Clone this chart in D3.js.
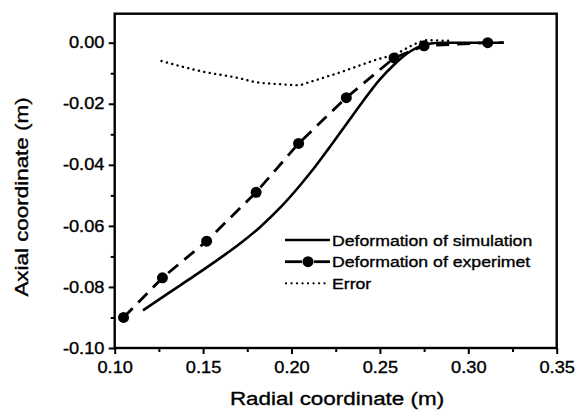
<!DOCTYPE html>
<html>
<head>
<meta charset="utf-8">
<script src="https://cdn.jsdelivr.net/npm/d3@7"></script>
<style>
  body { margin: 0; background: #fff; }
  svg { display: block; }
  text { font-family: "Liberation Sans", Arial, sans-serif; fill: #000; stroke: #000; stroke-width: 0.35px; }
</style>
</head>
<body>
<script>
// values
var simX = [0.116, 0.130, 0.145, 0.160, 0.170, 0.182, 0.194, 0.205, 0.213, 0.221, 0.232, 0.240, 0.250, 0.258, 0.265, 0.271, 0.277, 0.285, 0.300, 0.320];
var simY = [-0.0877, -0.0822, -0.0764, -0.0704, -0.0662, -0.0605, -0.0538, -0.0466, -0.0409, -0.0347, -0.0259, -0.0195, -0.0120, -0.0072, -0.0037, -0.0016, -0.0004, 0.0, 0.0, 0.0];

var expX = [0.105, 0.127, 0.152, 0.180, 0.204, 0.231, 0.258, 0.275, 0.311];
var expY = [-0.090, -0.077, -0.065, -0.049, -0.033, -0.018, -0.005, -0.001, 0.000];
var expLineEnd = [0.320, 0.000]; // dashed line carries on past the last marker

var errX = [0.1265, 0.1485, 0.171, 0.1796, 0.1937, 0.2038, 0.2106, 0.2275, 0.2501, 0.2576, 0.2708, 0.2764, 0.2896];
var errY = [-0.0060, -0.0093, -0.0117, -0.0129, -0.0136, -0.0139, -0.0128, -0.0097, -0.0052, -0.0040, -0.0002, 0.0008, 0.0006];

var xMajor = [0.10, 0.15, 0.20, 0.25, 0.30, 0.35];
var xMinor = [0.125, 0.175, 0.225, 0.275, 0.325];
var yMajor = [-0.10, -0.08, -0.06, -0.04, -0.02, 0.00];
var yMinor = [-0.09, -0.07, -0.05, -0.03, -0.01];

var legendLabels = ["Deformation of simulation", "Deformation of experimet", "Error"];

var W = 577, H = 412;
var pLeft = 114.7, pRight = 556.7, pTop = 13.7, pBottom = 348;
var stretch = 1.14; // the figure's type is a little wider than plain Arial

var svg = d3.select("body").append("svg").attr("width", W).attr("height", H);

var x = d3.scaleLinear().domain([0.10, 0.35]).range([pLeft, pRight]);
var y = d3.scaleLinear().domain([-0.10, 0.0095]).range([pBottom, pTop]);

var fmt = function(d) { return d3.format(".2f")(d).replace("\u2212", "-"); };

// axes
var gx = svg.append("g").attr("transform", `translate(0,${pBottom})`)
  .call(d3.axisBottom(x).tickValues(xMajor).tickSize(6).tickPadding(8).tickFormat(fmt));
var gxm = svg.append("g").attr("transform", `translate(0,${pBottom})`)
  .call(d3.axisBottom(x).tickValues(xMinor.filter(v => v < 0.35)).tickSize(4).tickFormat(""));
var gy = svg.append("g").attr("transform", `translate(${pLeft},0)`)
  .call(d3.axisLeft(y).tickValues(yMajor).tickSize(6).tickPadding(3).tickFormat(fmt));
var gym = svg.append("g").attr("transform", `translate(${pLeft},0)`)
  .call(d3.axisLeft(y).tickValues(yMinor).tickSize(4).tickFormat(""));

[gx, gxm, gy, gym].forEach(function(g) {
  g.select(".domain").remove();
  g.selectAll("line").attr("stroke", "#000").attr("stroke-width", 2);
  g.attr("font-size", 16).attr("font-family", "Liberation Sans, Arial, sans-serif");
  g.selectAll("text").attr("fill", "#000").attr("transform", `scale(${stretch},1)`);
});

// frame
svg.append("rect").attr("x", pLeft).attr("y", pTop).attr("width", pRight - pLeft).attr("height", pBottom - pTop)
  .attr("fill", "none").attr("stroke", "#000").attr("stroke-width", 2.4);

// titles
svg.append("text").attr("transform", `translate(337,405) scale(1.18,1)`)
  .attr("text-anchor", "middle").attr("font-size", 19).text("Radial coordinate (m)");
svg.append("text").attr("transform", `translate(28,197) rotate(-90) scale(1.18,1)`)
  .attr("text-anchor", "middle").attr("font-size", 19).text("Axial coordinate (m)");

// series
var simData = simX.map((v, i) => [v, simY[i]]);
var expData = expX.map((v, i) => [v, expY[i]]);
var errData = errX.map((v, i) => [v, errY[i]]);

var smooth = d3.line().x(d => x(d[0])).y(d => y(d[1])).curve(d3.curveMonotoneX);
var straight = d3.line().x(d => x(d[0])).y(d => y(d[1]));

svg.append("path").attr("d", smooth(errData)).attr("fill", "none").attr("stroke", "#000")
  .attr("stroke-width", 2.4).attr("stroke-linecap", "round").attr("stroke-dasharray", "0.1,5.4");

svg.append("path").attr("d", smooth(simData)).attr("fill", "none").attr("stroke", "#000")
  .attr("stroke-width", 2.6);

svg.append("path").attr("d", straight(expData.concat([expLineEnd]))).attr("fill", "none").attr("stroke", "#000")
  .attr("stroke-width", 2.8).attr("stroke-dasharray", "13,8");

svg.append("g").selectAll("circle").data(expData).enter().append("circle")
  .attr("cx", d => x(d[0])).attr("cy", d => y(d[1])).attr("r", 5.5).attr("fill", "#000");

// legend
var lg = svg.append("g");
var rowY = [240, 261.7, 283.3];
legendLabels.forEach(function(lab, i) {
  var ry = rowY[i];
  if (i === 0) {
    lg.append("line").attr("x1", 285).attr("x2", 330).attr("y1", ry).attr("y2", ry)
      .attr("stroke", "#000").attr("stroke-width", 2.6);
  } else if (i === 1) {
    lg.append("line").attr("x1", 285).attr("x2", 302).attr("y1", ry).attr("y2", ry)
      .attr("stroke", "#000").attr("stroke-width", 2.8);
    lg.append("line").attr("x1", 314).attr("x2", 330).attr("y1", ry).attr("y2", ry)
      .attr("stroke", "#000").attr("stroke-width", 2.8);
    lg.append("circle").attr("cx", 308).attr("cy", ry).attr("r", 5.5).attr("fill", "#000");
  } else {
    lg.append("line").attr("x1", 286).attr("x2", 328).attr("y1", ry).attr("y2", ry)
      .attr("stroke", "#000").attr("stroke-width", 2.2).attr("stroke-linecap", "round")
      .attr("stroke-dasharray", "0.1,5.4");
  }
  lg.append("text").attr("transform", `translate(332,${ry + 5.7}) scale(${stretch},1)`)
    .attr("font-size", 15.5).text(lab);
});
</script>
</body>
</html>
